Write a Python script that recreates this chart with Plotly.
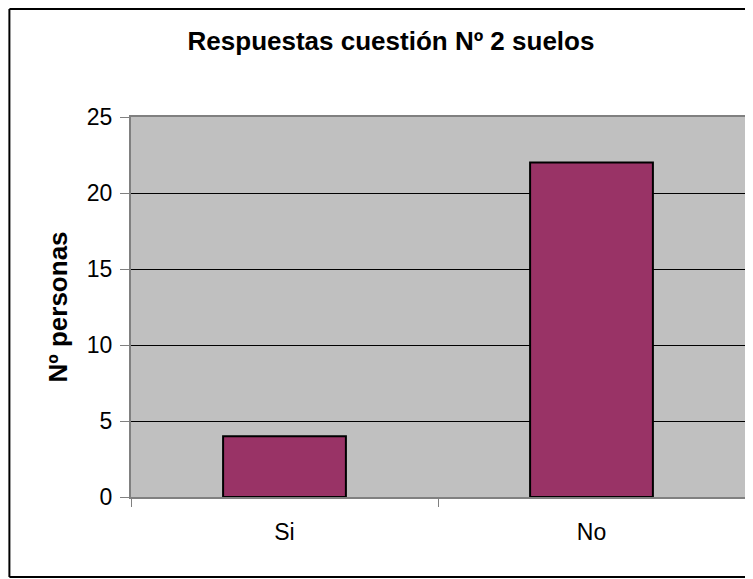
import plotly.graph_objects as go

respuestas = ["Si", "No"]
personas = [4, 22]
ticks_y = [0, 5, 10, 15, 20, 25]

fuente = "Liberation Sans, Arial, sans-serif"

# la pagina tiene 8px de margen en el body, por eso la figura es algo menor que la ventana
ancho, alto = 745, 571
m_izq, m_der, m_sup, m_inf = 123, 6, 109, 82
ancho_plot = ancho - m_izq - m_der
alto_plot = alto - m_sup - m_inf


def px_a_x(px):
    return (px - m_izq) / ancho_plot


def px_a_y(py):
    return (alto - m_inf - py) / alto_plot


fig = go.Figure()
fig.add_trace(go.Bar(x=respuestas, y=personas,
                     marker=dict(color="#993366", line=dict(color="black", width=2)),
                     showlegend=False, hoverinfo="x+y"))

fig.update_layout(
    width=ancho, height=alto,
    margin=dict(l=m_izq, r=m_der, t=m_sup, b=m_inf),
    paper_bgcolor="white", plot_bgcolor="#C0C0C0",
    bargap=0.6,
    font=dict(family=fuente, size=23, color="black"),
    title=dict(text="<b>Respuestas cuestión Nº 2 suelos</b>", x=383 / ancho, xanchor="center",
               y=1 - 33 / alto, yanchor="middle", font=dict(family=fuente, size=26, color="black")),
)

fig.update_xaxes(showline=True, linecolor="#808080", linewidth=2, mirror=True,
                 ticks="outside", tickson="boundaries", ticklen=8, tickcolor="#808080", tickwidth=1,
                 ticklabelstandoff=13, showgrid=False)
fig.update_yaxes(range=[0, 25], tickvals=ticks_y, showline=True, linecolor="#808080", linewidth=2,
                 mirror=True, ticks="outside", ticklen=9, tickcolor="#808080", tickwidth=1,
                 ticklabelstandoff=3, showgrid=True, gridcolor="black", gridwidth=1,
                 zeroline=False,
                 title=dict(text="<b>Nº personas</b>", font=dict(family=fuente, size=26), standoff=12))

# marco exterior del grafico (abierto a la derecha, como en el original)
x_marco, y_sup, y_inf = px_a_x(1), px_a_y(1), px_a_y(569)
fig.add_shape(type="line", xref="paper", yref="paper", x0=x_marco, x1=x_marco, y0=y_inf, y1=y_sup,
              line=dict(color="black", width=2))
fig.add_shape(type="line", xref="paper", yref="paper", x0=x_marco, x1=1.05, y0=y_sup, y1=y_sup,
              line=dict(color="black", width=2))
fig.add_shape(type="line", xref="paper", yref="paper", x0=x_marco, x1=1.05, y0=y_inf, y1=y_inf,
              line=dict(color="black", width=2))

fig.write_html("out.html")
